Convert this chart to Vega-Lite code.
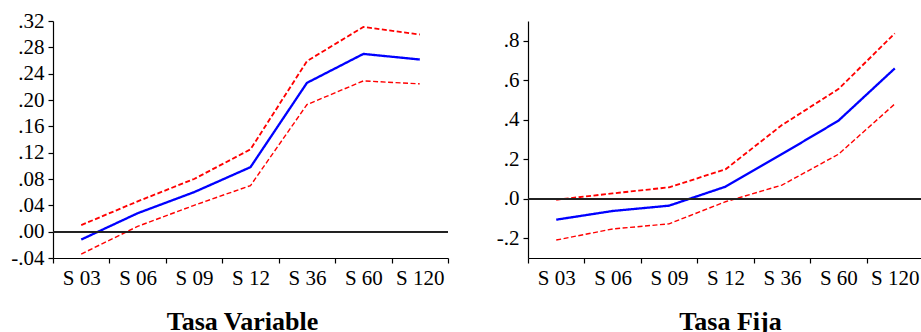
{
  "$schema": "https://vega.github.io/schema/vega-lite/v6.json",
  "padding": {"left": 10, "top": 10, "right": 0, "bottom": 0},
  "background": "white",
  "bounds": "flush",
  "spacing": 80,
  "config": {
    "view": {"stroke": null},
    "font": "Liberation Serif",
    "axis": {
      "labelFont": "Liberation Serif",
      "labelFontSize": 21,
      "labelColor": "black",
      "titleFont": "Liberation Serif",
      "domainColor": "black",
      "domainWidth": 1.2,
      "tickColor": "black",
      "tickWidth": 1.2,
      "tickSize": 5,
      "labelPadding": 4,
      "labelOverlap": false,
      "grid": false
    }
  },
  "datasets": {
    "variable": [
      {"plazo": "S 03", "serie": "est", "valor": -0.012},
      {"plazo": "S 06", "serie": "est", "valor": 0.028},
      {"plazo": "S 09", "serie": "est", "valor": 0.060},
      {"plazo": "S 12", "serie": "est", "valor": 0.098},
      {"plazo": "S 36", "serie": "est", "valor": 0.226},
      {"plazo": "S 60", "serie": "est", "valor": 0.270},
      {"plazo": "S 120", "serie": "est", "valor": 0.2615},
      {"plazo": "S 03", "serie": "sup", "valor": 0.010},
      {"plazo": "S 06", "serie": "sup", "valor": 0.046},
      {"plazo": "S 09", "serie": "sup", "valor": 0.080},
      {"plazo": "S 12", "serie": "sup", "valor": 0.125},
      {"plazo": "S 36", "serie": "sup", "valor": 0.259},
      {"plazo": "S 60", "serie": "sup", "valor": 0.311},
      {"plazo": "S 120", "serie": "sup", "valor": 0.2995},
      {"plazo": "S 03", "serie": "inf", "valor": -0.034},
      {"plazo": "S 06", "serie": "inf", "valor": 0.008},
      {"plazo": "S 09", "serie": "inf", "valor": 0.040},
      {"plazo": "S 12", "serie": "inf", "valor": 0.070},
      {"plazo": "S 36", "serie": "inf", "valor": 0.193},
      {"plazo": "S 60", "serie": "inf", "valor": 0.229},
      {"plazo": "S 120", "serie": "inf", "valor": 0.2245}
    ],
    "fija": [
      {"plazo": "S 03", "serie": "est", "valor": -0.106},
      {"plazo": "S 06", "serie": "est", "valor": -0.062},
      {"plazo": "S 09", "serie": "est", "valor": -0.035},
      {"plazo": "S 12", "serie": "est", "valor": 0.061},
      {"plazo": "S 36", "serie": "est", "valor": 0.226},
      {"plazo": "S 60", "serie": "est", "valor": 0.395},
      {"plazo": "S 120", "serie": "est", "valor": 0.660},
      {"plazo": "S 03", "serie": "sup", "valor": -0.005},
      {"plazo": "S 06", "serie": "sup", "valor": 0.027},
      {"plazo": "S 09", "serie": "sup", "valor": 0.058},
      {"plazo": "S 12", "serie": "sup", "valor": 0.149},
      {"plazo": "S 36", "serie": "sup", "valor": 0.373},
      {"plazo": "S 60", "serie": "sup", "valor": 0.555},
      {"plazo": "S 120", "serie": "sup", "valor": 0.837},
      {"plazo": "S 03", "serie": "inf", "valor": -0.209},
      {"plazo": "S 06", "serie": "inf", "valor": -0.153},
      {"plazo": "S 09", "serie": "inf", "valor": -0.127},
      {"plazo": "S 12", "serie": "inf", "valor": -0.015},
      {"plazo": "S 36", "serie": "inf", "valor": 0.069},
      {"plazo": "S 60", "serie": "inf", "valor": 0.225},
      {"plazo": "S 120", "serie": "inf", "valor": 0.480}
    ]
  },
  "hconcat": [
    {
      "width": 395,
      "height": 237,
      "data": {"name": "variable"},
      "layer": [
        {
          "mark": {"type": "line", "clip": false},
          "encoding": {
            "x": {
              "field": "plazo", "type": "ordinal",
              "sort": ["S 03", "S 06", "S 09", "S 12", "S 36", "S 60", "S 120"],
              "scale": {"type": "band", "paddingInner": 0, "paddingOuter": 0},
              "bandPosition": 0.5,
              "axis": {
                "title": "Tasa Variable", "labelAngle": 0, "tickBand": "extent",
                "titleFontSize": 26, "titleFontWeight": "bold", "titleColor": "black",
                "titlePadding": 20, "titleX": 189
              }
            },
            "y": {
              "field": "valor", "type": "quantitative",
              "scale": {"domain": [-0.04, 0.32], "nice": false, "zero": false},
              "axis": {
                "title": null,
                "values": [-0.04, 0, 0.04, 0.08, 0.12, 0.16, 0.2, 0.24, 0.28, 0.32],
                "tickCount": 20,
                "labelOverlap": false,
                "labelExpr": "replace(replace(format(datum.value, '.2f'), '0.', '.'), '\u2212', '-')"
              }
            },
            "color": {
              "field": "serie", "type": "nominal", "legend": null,
              "scale": {"domain": ["est", "sup", "inf"], "range": ["#0000ff", "#ff0000", "#ff0000"]}
            },
            "strokeDash": {
              "field": "serie", "type": "nominal", "legend": null,
              "scale": {"domain": ["est", "sup", "inf"], "range": [[1, 0], [5, 2.5], [5, 2.5]]}
            },
            "strokeWidth": {
              "field": "serie", "type": "nominal", "legend": null,
              "scale": {"domain": ["est", "sup", "inf"], "range": [2.3, 1.4, 1.4]}
            }
          }
        },
        {
          "mark": {"type": "rule", "color": "#222222", "strokeWidth": 1},
          "encoding": {"y": {"datum": 0, "type": "quantitative"}}
        }
      ]
    },
    {
      "width": 395,
      "height": 237,
      "data": {"name": "fija"},
      "layer": [
        {
          "mark": {"type": "line", "clip": false},
          "encoding": {
            "x": {
              "field": "plazo", "type": "ordinal",
              "sort": ["S 03", "S 06", "S 09", "S 12", "S 36", "S 60", "S 120"],
              "scale": {"type": "band", "paddingInner": 0, "paddingOuter": 0},
              "bandPosition": 0.5,
              "axis": {
                "title": "Tasa Fija", "labelAngle": 0, "tickBand": "extent",
                "titleFontSize": 26, "titleFontWeight": "bold", "titleColor": "black",
                "titlePadding": 20, "titleX": 202
              }
            },
            "y": {
              "field": "valor", "type": "quantitative",
              "scale": {"domain": [-0.3, 0.9], "nice": false, "zero": false},
              "axis": {
                "title": null,
                "values": [-0.2, 0, 0.2, 0.4, 0.6, 0.8],
                "tickCount": 20,
                "labelOverlap": false,
                "labelExpr": "replace(replace(format(datum.value, '.1f'), '0.', '.'), '\u2212', '-')"
              }
            },
            "color": {
              "field": "serie", "type": "nominal", "legend": null,
              "scale": {"domain": ["est", "sup", "inf"], "range": ["#0000ff", "#ff0000", "#ff0000"]}
            },
            "strokeDash": {
              "field": "serie", "type": "nominal", "legend": null,
              "scale": {"domain": ["est", "sup", "inf"], "range": [[1, 0], [5, 2.5], [5, 2.5]]}
            },
            "strokeWidth": {
              "field": "serie", "type": "nominal", "legend": null,
              "scale": {"domain": ["est", "sup", "inf"], "range": [2.3, 1.4, 1.4]}
            }
          }
        },
        {
          "mark": {"type": "rule", "color": "#222222", "strokeWidth": 1},
          "encoding": {"y": {"datum": 0, "type": "quantitative"}}
        }
      ]
    }
  ],
  "resolve": {"scale": {"color": "independent", "strokeDash": "independent", "strokeWidth": "independent"}}
}
